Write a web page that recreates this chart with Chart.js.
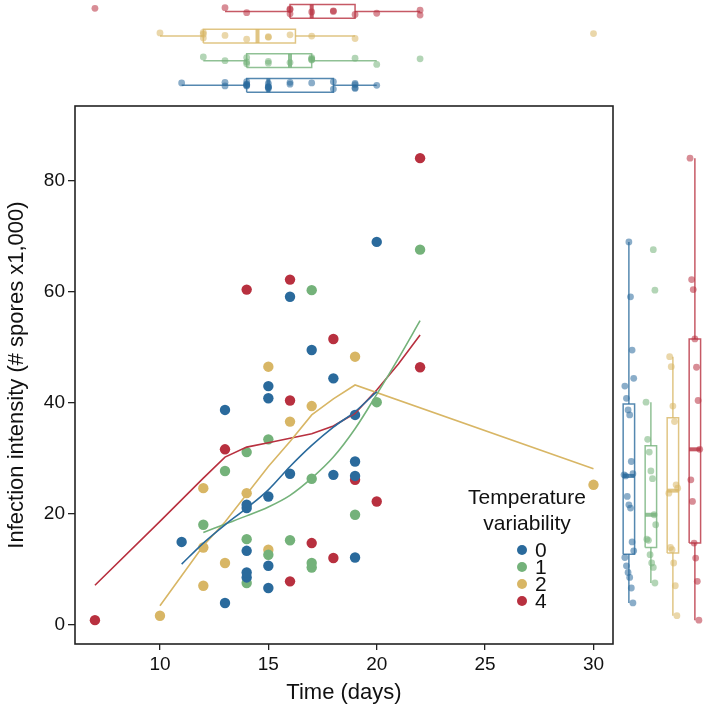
<!DOCTYPE html>
<html>
<head>
<meta charset="utf-8">
<script src="https://cdn.jsdelivr.net/npm/chart.js@4.4.1/dist/chart.umd.min.js"></script>
<style>
  body { margin: 0; background: #fff; }
  #wrap { position: relative; width: 709px; height: 706px; }
  canvas { position: absolute; }
</style>
</head>
<body>
<div id="wrap">
  <canvas id="main" width="709" height="706" style="left:0;top:0"></canvas>
  <canvas id="top" width="709" height="106" style="left:0;top:0"></canvas>
  <canvas id="right" width="96" height="706" style="left:613px;top:0"></canvas>
</div>
<script>
// temperature variability groups
const groups = ["0", "1", "2", "4"];
const colors = ["#2a6a9c", "#74b27a", "#d8b665", "#b8303f"];

// time (days) and infection intensity per group
const time0 = [13, 15, 14, 14, 15, 19, 14, 11, 14, 14, 15, 19, 18, 16, 19, 19, 13, 15, 15, 18, 17, 16, 20];
const inf0 = [3.9, 6.6, 8.5, 9.4, 10.6, 12.1, 13.3, 14.9, 21.0, 21.6, 23.1, 26.8, 27.0, 27.2, 29.4, 37.8, 38.7, 40.8, 43.0, 44.4, 49.5, 59.1, 69.0];
const time1 = [14, 17, 17, 15, 16, 14, 12, 19, 17, 13, 14, 15, 20, 17, 22];
const inf1 = [7.5, 10.3, 11.1, 12.6, 15.2, 15.4, 18.0, 19.8, 26.3, 27.7, 31.1, 33.4, 40.1, 60.3, 67.6];
const time2 = [10, 12, 13, 15, 12, 14, 12, 30, 16, 17, 15, 19];
const inf2 = [1.6, 7.0, 11.1, 13.5, 13.9, 23.7, 24.6, 25.2, 36.6, 39.4, 46.5, 48.3];
const time4 = [7, 16, 18, 17, 20, 19, 13, 16, 22, 18, 14, 16, 22];
const inf4 = [0.8, 7.8, 12.0, 14.7, 22.2, 26.1, 31.6, 40.4, 46.4, 51.5, 60.4, 62.2, 84.1];

// smoothed fits
const fitX0 = [11, 12, 13, 14, 15, 16, 17, 18, 19, 20];
const fitY0 = [10.9, 14.7, 18.0, 21.0, 24.3, 28.5, 32.3, 35.6, 38.4, 42.0];
const fitX1 = [12, 13, 14, 15, 16, 17, 18, 19, 20, 21, 22];
const fitY1 = [16.6, 18.1, 19.6, 21.2, 23.3, 26.4, 30.2, 35.3, 41.5, 48.0, 54.8];
const fitX2 = [10, 11, 12, 13, 14, 15, 16, 17, 18, 19, 30];
const fitY2 = [3.4, 8.8, 14.2, 18.5, 23.5, 28.5, 33.0, 37.8, 40.7, 43.2, 28.1];
const fitX4 = [7, 10, 12, 13, 14, 15, 16, 17, 18, 19, 20, 21, 22];
const fitY4 = [7.1, 18.6, 26.4, 30.2, 32.0, 32.8, 33.6, 34.4, 35.8, 38.1, 42.3, 47.0, 52.2];

const xTicks = [10, 15, 20, 25, 30];
const yTicks = [0, 20, 40, 60, 80];

const times = [time0, time1, time2, time4];
const infs = [inf0, inf1, inf2, inf4];
const fitX = [fitX0, fitX1, fitX2, fitX4];
const fitY = [fitY0, fitY1, fitY2, fitY4];
// blue & green fits are smooth, yellow & red have sharp bends
const fitSmooth = [true, true, false, false];

const FONT = "Liberation Sans";
const X_MIN = 6.08, X_MAX = 30.9;
const Y_MIN = -3.5, Y_MAX = 93.5;

function rgba(hex, a) {
  const n = parseInt(hex.slice(1), 16);
  return `rgba(${(n >> 16) & 255},${(n >> 8) & 255},${n & 255},${a})`;
}

function quant(s, p) {
  const h = (s.length - 1) * p;
  const lo = Math.floor(h);
  const hiV = s[Math.min(lo + 1, s.length - 1)];
  return s[lo] + (h - lo) * (hiV - s[lo]);
}

function boxStats(arr) {
  const s = [...arr].sort((a, b) => a - b);
  const q1 = quant(s, 0.25), med = quant(s, 0.5), q3 = quant(s, 0.75);
  const iqr = q3 - q1;
  const lo = Math.min(...s.filter(v => v >= q1 - 1.5 * iqr));
  const hi = Math.max(...s.filter(v => v <= q3 + 1.5 * iqr));
  return { q1, med, q3, lo, hi };
}

// small fixed spread so overlapping marginal points can be seen
function jit(k, amp) {
  return ((((k + 1) * 37) % 13) / 12 - 0.5) * 2 * amp;
}

// boxplot pieces as line datasets; horizontal = values along x
function boxSets(vals, pos, color, horizontal, half, jAmp) {
  const pt = (v, p) => horizontal ? { x: v, y: p } : { x: p, y: v };
  const st = boxStats(vals);
  const line = rgba(color, 0.8);
  const base = { showLine: true, pointRadius: 0, borderColor: line, borderWidth: 1.5, clip: false };
  return [
    { ...base, data: [pt(st.lo, pos), pt(st.q1, pos)] },
    { ...base, data: [pt(st.q3, pos), pt(st.hi, pos)] },
    { ...base, data: [pt(st.q1, pos - half), pt(st.q3, pos - half), pt(st.q3, pos + half), pt(st.q1, pos + half), pt(st.q1, pos - half)] },
    { ...base, borderWidth: 4, data: [pt(st.med, pos - half), pt(st.med, pos + half)] },
    {
      data: vals.map((v, k) => pt(v, pos + jit(k, jAmp))),
      pointRadius: 3.4, backgroundColor: rgba(color, 0.55), borderWidth: 0, clip: false
    }
  ];
}

const frame = {
  id: "frame",
  afterDatasetsDraw(chart) {
    const { ctx, chartArea: a } = chart;
    ctx.save();
    ctx.strokeStyle = "#222";
    ctx.lineWidth = 1.6;
    ctx.strokeRect(a.left, a.top, a.right - a.left, a.bottom - a.top);
    ctx.restore();
  }
};

const tvLegend = {
  id: "tvLegend",
  afterDatasetsDraw(chart) {
    const ctx = chart.ctx;
    ctx.save();
    ctx.font = `21px "${FONT}"`;
    ctx.textBaseline = "middle";
    ctx.textAlign = "center";
    ctx.fillStyle = "#111";
    ctx.fillText("Temperature", 527, 498);
    ctx.fillText("variability", 527, 524);
    groups.forEach((g, i) => {
      const y = 550 + i * 17;
      ctx.beginPath();
      ctx.arc(522, y, 5, 0, Math.PI * 2);
      ctx.fillStyle = colors[i];
      ctx.fill();
      ctx.fillStyle = "#111";
      ctx.textAlign = "left";
      ctx.fillText(g, 535, y + 1);
    });
    ctx.restore();
  }
};

// main scatter + smooth lines
const mainSets = [];
groups.forEach((g, i) => {
  const set = {
    label: "fit " + g,
    data: fitX[i].map((x, k) => ({ x: x, y: fitY[i][k] })),
    showLine: true, pointRadius: 0, borderColor: colors[i], borderWidth: 1.6, order: 1
  };
  if (fitSmooth[i]) set.cubicInterpolationMode = "monotone";
  mainSets.push(set);
});
groups.forEach((g, i) => {
  mainSets.push({
    label: g,
    data: times[i].map((x, k) => ({ x: x, y: infs[i][k] })),
    backgroundColor: colors[i], borderWidth: 0, pointRadius: 5.2, order: 2
  });
});

new Chart(document.getElementById("main"), {
  type: "scatter",
  data: { datasets: mainSets },
  options: {
    responsive: false,
    animation: false,
    layout: { padding: { top: 106, right: 96, left: 0, bottom: 0 } },
    plugins: { legend: { display: false }, tooltip: { enabled: false } },
    scales: {
      x: {
        type: "linear", min: X_MIN, max: X_MAX,
        afterBuildTicks: s => { s.ticks = xTicks.map(v => ({ value: v })); },
        afterFit: s => { s.height = 62; },
        grid: { drawOnChartArea: false, tickLength: 6, color: "#222", lineWidth: 1.3 },
        border: { display: false },
        ticks: { color: "#111", padding: 3, maxRotation: 0, font: { family: FONT, size: 19 } },
        title: { display: true, text: "Time (days)", color: "#111", padding: { top: 0, bottom: 0 }, font: { family: FONT, size: 22 } }
      },
      y: {
        type: "linear", min: Y_MIN, max: Y_MAX,
        afterBuildTicks: s => { s.ticks = yTicks.map(v => ({ value: v })); },
        afterFit: s => { s.width = 75; },
        grid: { drawOnChartArea: false, tickLength: 7, color: "#222", lineWidth: 1.3 },
        border: { display: false },
        ticks: { color: "#111", padding: 3, font: { family: FONT, size: 19 } },
        title: { display: true, text: "Infection intensity (# spores x1,000)", color: "#111", padding: { top: 4, bottom: 0 }, font: { family: FONT, size: 22 } }
      }
    }
  },
  plugins: [frame, tvLegend]
});

// top margin: time boxplots, rows 0 (bottom) .. 4 (top)
let topSets = [];
groups.forEach((g, i) => {
  topSets = topSets.concat(boxSets(times[i], i + 1, colors[i], true, 0.28, 0.15));
});
new Chart(document.getElementById("top"), {
  type: "scatter",
  data: { datasets: topSets },
  options: {
    responsive: false,
    animation: false,
    layout: { padding: { left: 75, right: 96, top: 0, bottom: 0 } },
    plugins: { legend: { display: false }, tooltip: { enabled: false } },
    scales: {
      x: { type: "linear", min: X_MIN, max: X_MAX, display: false },
      y: { type: "linear", min: 0.325, max: 4.3, display: false }
    }
  }
});

// right margin: infection intensity boxplots
let rightSets = [];
groups.forEach((g, i) => {
  rightSets = rightSets.concat(boxSets(infs[i], i + 1, colors[i], false, 0.26, 0.22));
});
new Chart(document.getElementById("right"), {
  type: "scatter",
  data: { datasets: rightSets },
  options: {
    responsive: false,
    animation: false,
    layout: { padding: { left: 0, right: 0, top: 106, bottom: 62 } },
    plugins: { legend: { display: false }, tooltip: { enabled: false } },
    scales: {
      x: { type: "linear", min: 0.46, max: 4.46, display: false },
      y: { type: "linear", min: Y_MIN, max: Y_MAX, display: false }
    }
  }
});
</script>
</body>
</html>
